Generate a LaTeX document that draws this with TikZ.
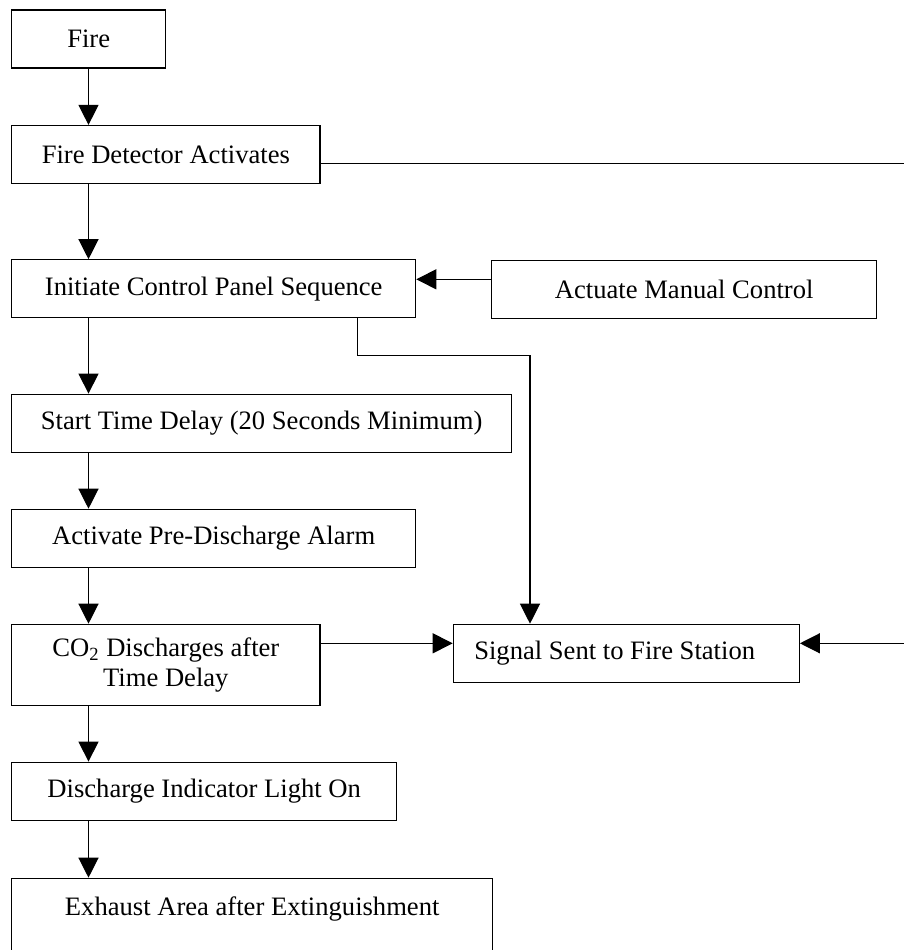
\documentclass[tikz,border=0pt]{standalone}
\usepackage{fontspec}
\setmainfont{Liberation Serif}
\usetikzlibrary{arrows.meta}
\begin{document}
\begin{tikzpicture}[x=0.5pt,y=-0.5pt,
  box/.style={draw, line width=0.6pt, inner sep=0pt, minimum height=29pt,
    font=\fontsize{13.3pt}{15pt}\selectfont, align=center},
  arr/.style={line width=0.6pt, -{Triangle[length=10pt,width=10pt]}}]
\useasboundingbox (0,0) rectangle (904,950);
\clip (0,0) rectangle (904,950);
% boxes
\node[box, minimum width=77pt] (fire) at (88.7,39) {Fire};
\node[box, minimum width=154.2pt] (fd) at (165.85,154.5) {Fire Detector Activates};
\node[box, minimum width=202pt] (init) at (213.7,288.8) {Initiate Control Panel Sequence};
\node[box, minimum width=192.5pt] (act) at (684.2,289.2) {Actuate Manual Control};
\node[box, minimum width=250pt] (start) at (261.7,423.2) {Start Time Delay (20 Seconds Minimum)};
\node[box, minimum width=202pt] (activ) at (213.7,538.3) {Activate Pre-Discharge Alarm};
\node[box, minimum width=154.2pt, minimum height=40.7pt] (co2) at (165.85,665) {CO\textsubscript{2} Discharges after\\Time Delay};
\node[box, minimum width=173pt, text width=152pt, inner xsep=10.5pt, align=flush left] (signal) at (626.3,653.3) {Signal Sent to Fire Station};
\node[box, minimum width=192.5pt] (disch) at (204.2,791.2) {Discharge Indicator Light On};
\node[box, minimum width=240.5pt, minimum height=43pt, anchor=north] (exh) at (252.2,877.7) {Exhaust Area after Extinguishment\\\mbox{}};
% helper coordinates
\coordinate (spine) at (88.5,0);
\coordinate (manY) at (0,279.3);
\coordinate (t1) at (357.3,355.7);
\coordinate (t2) at (530,355.7);
\coordinate (sigY) at (0,643.3);
\coordinate (fdY) at (0,163.3);
\coordinate (far) at (915,0);
% main chain
\draw[arr] (spine |- fire.south) -- (spine |- fd.north);
\draw[arr] (spine |- fd.south) -- (spine |- init.north);
\draw[arr] (spine |- init.south) -- (spine |- start.north);
\draw[arr] (spine |- start.south) -- (spine |- activ.north);
\draw[arr] (spine |- activ.south) -- (spine |- co2.north);
\draw[arr] (spine |- co2.south) -- (spine |- disch.north);
\draw[arr] (spine |- disch.south) -- (spine |- exh.north);
% side connectors
\draw[arr] (act.west |- manY) -- (init.east |- manY);
\draw[arr] (t1 |- init.south) -- (t1) -- (t2) -- (t2 |- signal.north);
\draw[arr] (co2.east |- sigY) -- (signal.west |- sigY);
\draw[arr] (fd.east |- fdY) -- (far |- fdY) -- (far |- sigY) -- (signal.east |- sigY);
\end{tikzpicture}
\end{document}
